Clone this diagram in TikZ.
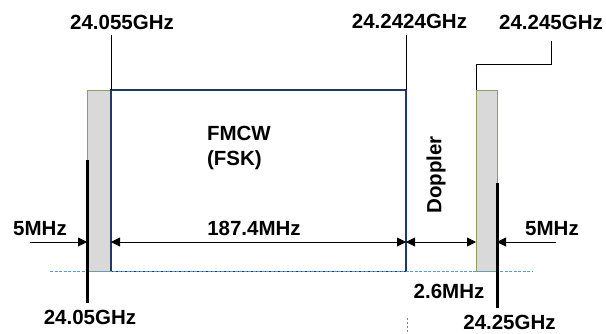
\documentclass[tikz,border=0pt]{standalone}
\usepackage{fontspec}
\setmainfont{Liberation Sans}
\usepackage{tikz}
\usetikzlibrary{arrows.meta}
\definecolor{bandblue}{RGB}{31,56,100}
\definecolor{guardgreen}{RGB}{140,160,90}
\definecolor{baseblue}{RGB}{91,155,213}

\begin{document}
\begin{tikzpicture}[x=1pt, y=-1pt, every node/.style={font=\fontsize{20.5}{24.5}\selectfont\bfseries, inner sep=0pt, outer sep=0pt}, >={Triangle[length=9pt,width=9pt]}, guard/.style={draw=guardgreen, fill=black!15, line width=0.8pt, minimum height=181.5pt}, band/.style={draw=bandblue, line width=1.8pt, minimum width=295pt, minimum height=181.5pt}, edgeline/.style={line width=3pt}, dim/.style={line width=0.9pt}]
	\useasboundingbox (0,0) rectangle (606,333);
	% guard bands and the FMCW band
	\node[guard, minimum width=24pt] (lguard) at (99,180.75) {};
	\node[guard, minimum width=21pt] (rguard) at (486.5,180.75) {};
	\node[band] (band) at (258.5,180.75) {};
	\draw[baseblue, dash pattern=on 3pt off 1.5pt, line width=0.9pt] (50,271.5) -- (532,271.5);
	\draw[edgeline] (lguard.west |- 0,160) -- (lguard.west |- 0,303);
	\draw[edgeline] (rguard.east |- 0,183) -- (rguard.east |- 0,308);
	\draw[gray, dash pattern=on 2pt off 2pt, line width=0.8pt] (407,318) -- (407,333);
	% labels
	\node (f1) at (122,22) {24.055GHz};
	\node (f2) at (409.5,21) {24.2424GHz};
	\node (f3) at (551,22) {24.245GHz};
	\node (f4) at (90,317) {24.05GHz};
	\node (f5) at (509.5,322) {24.25GHz};
	\node[align=left, anchor=west] (mode) at (207,148) {FMCW\\(FSK)};
	\node (w1) at (40,229) {5MHz};
	\node (w2) at (254,228) {187.4MHz};
	\node (w3) at (449,291) {2.6MHz};
	\node (w4) at (552,229) {5MHz};
	\node[rotate=90] (dop) at (436,175) {Doppler};
	% leaders
	\draw[dim] (band.north west) -- ++(0,-55);
	\draw[dim] (band.north east) -- ++(0,-55);
	\draw[dim] (rguard.north west) -- ++(0,-26) -| ([yshift=-12pt]f3.south);
	% widths
	\coordinate (ar) at (0,242);
	\draw[dim, ->] (30,242) -- (lguard.west |- ar);
	\draw[dim, <->] (band.west |- ar) -- (band.east |- ar);
	\draw[dim, <->] (band.east |- ar) -- (rguard.west |- ar);
	\draw[dim, ->] (556,242) -- (rguard.east |- ar);
\end{tikzpicture}
\end{document}
